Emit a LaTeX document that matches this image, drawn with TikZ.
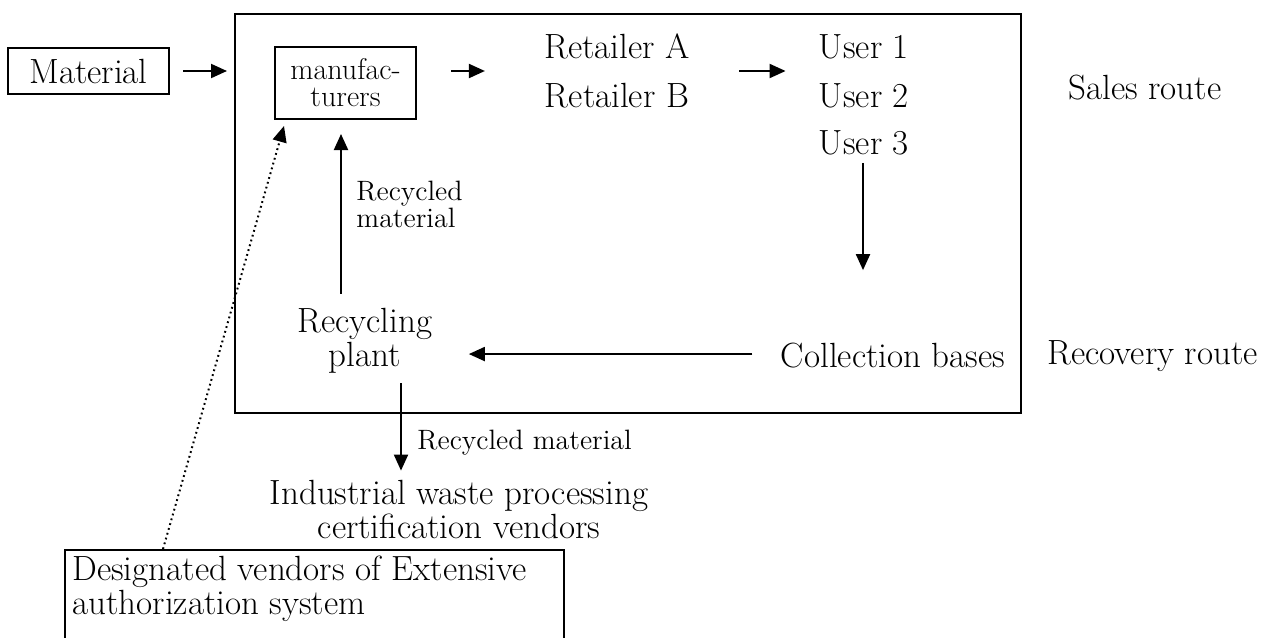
\documentclass[tikz,border=0pt]{standalone}
\usetikzlibrary{arrows.meta,calc}
\begin{document}
\begin{tikzpicture}[x=0.5pt,y=-0.5pt,
  main/.style={font=\fontsize{17.5}{14}\selectfont, inner sep=0pt},
  small/.style={font=\fontsize{14}{13.5}\selectfont, inner sep=0pt},
  box/.style={draw, line width=1pt},
  arr/.style={line width=1pt, -{Triangle[length=8pt,width=7pt]}},
  dots/.style={line width=1pt, dash pattern=on 0.9pt off 1.6pt, -{Triangle[length=8pt,width=7pt]}}]
\clip (0,0) rectangle (1263,637);
\useasboundingbox (0,0) rectangle (1263,637);
% boxes
\node[box, main, minimum width=80.5pt, minimum height=23pt] (mat) at (88.5,71) {Material};
\node[box, minimum width=393pt, minimum height=199.5pt] (big) at (628,213.5) {};
\node[box, font=\fontsize{15}{13.5}\selectfont, inner sep=0pt, align=center, minimum width=70.5pt, minimum height=36pt] (manuf) at (345.5,83) {manufac-\\turers};
% texts
\node[main, anchor=base] (ra) at (617,58) {Retailer A};
\node[main, anchor=base] (rb) at (617,107) {Retailer B};
\node[main, anchor=base] (u1) at (864,58) {User 1};
\node[main, anchor=base] (u2) at (864,107) {User 2};
\node[main, anchor=base] (u3) at (864,154) {User 3};
\node[main, anchor=base west] (sales) at (1068,99) {Sales route};
\node[main, anchor=base] (coll) at (893,367) {Collection bases};
\node[main, anchor=base west] (recov) at (1047,364) {Recovery route};
\node[main, align=center, anchor=base] (rec) at (365,366) {Recycling\\plant};
\node[small, align=left, anchor=base west] (rlab1) at (356,227) {Recycled\\material};
\node[small, anchor=base west] (rlab2) at (417,449) {Recycled material};
\node[main, align=center, anchor=base] (ind) at (459,538) {Industrial waste processing\\certification vendors};
\node[box, anchor=north west, minimum width=249.5pt, minimum height=100pt] (des) at (64,549) {};
\node[main, align=left, anchor=base west] (destext) at (72,614) {Designated vendors of Extensive\\authorization system};
\coordinate (dstart) at (163,549);
% connectors
\draw[arr, shorten <=6.5pt, shorten >=3.5pt] (mat.east) -- (mat.east -| big.west);
\draw[arr, shorten <=17pt, shorten >=29.5pt] (manuf.east |- mat.east) -- (ra.west |- mat.east);
\draw[arr, shorten <=24.5pt, shorten >=16.5pt] (ra.east |- mat.east) -- (u1.west |- mat.east);
\draw[arr, shorten <=4pt, shorten >=36pt] ([xshift=-0.5pt]u3.south) -- ([xshift=-0.5pt]u3.south |- coll.north);
\draw[arr, shorten <=14pt, shorten >=18pt] ([yshift=0.5pt]coll.west) -- ([yshift=0.5pt]coll.west -| rec.east);
\draw[arr, shorten <=7pt, shorten >=7pt] ([xshift=-2.25pt]manuf.south |- rec.north) -- ([xshift=-2.25pt]manuf.south);
\draw[arr, shorten <=5pt, shorten >=4.5pt] ([xshift=18pt]rec.south) -- ([xshift=18pt]rec.south |- ind.north);
\draw[dots] (dstart) -- ([xshift=5pt,yshift=-3pt]manuf.south west);
\end{tikzpicture}
\end{document}
